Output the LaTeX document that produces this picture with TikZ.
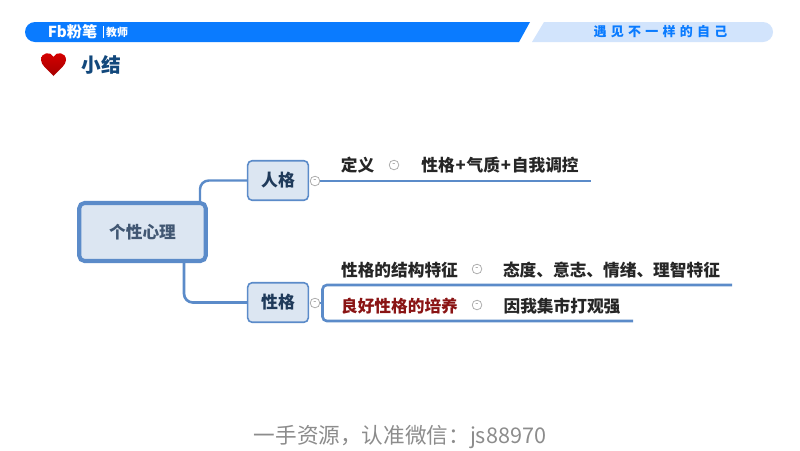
\documentclass[tikz,border=0pt]{standalone}
\usepackage{fontspec}
\usepackage{xcolor}
\usetikzlibrary{positioning}
\setmainfont{Noto Sans CJK SC}
\definecolor{barblue}{HTML}{0A7BFF}
\definecolor{barlight}{HTML}{D2E4FC}
\definecolor{mapblue}{HTML}{5B8BC9}
\definecolor{boxfill}{HTML}{DCE6F2}
\definecolor{titleblue}{HTML}{12487C}
\definecolor{boxtext}{HTML}{1F3A5A}
\definecolor{darkred}{HTML}{8A1414}
\tikzset{
  rootbox/.style={draw=mapblue,line width=2.3pt,fill=boxfill,rounded corners=3pt,minimum width=72pt,minimum height=33pt,inner sep=0pt,font=\fontsize{9.5}{11}\selectfont\bfseries,text=boxtext!85},
  topicbox/.style={draw=mapblue,line width=0.9pt,fill=boxfill,rounded corners=2.5pt,minimum width=34.5pt,minimum height=22.5pt,inner sep=0pt,font=\fontsize{9.6}{12}\selectfont\bfseries,text=boxtext},
  leaf/.style={inner sep=0pt,font=\fontsize{9.5}{11}\selectfont\bfseries,text=black!85},
  branch/.style={draw=mapblue,line width=1.5pt,rounded corners=2.5pt},
  foldmark/.style={circle,draw=gray!70,fill=white,line width=0.4pt,minimum size=5.5pt,inner sep=0pt,text=gray,font=\fontsize{5}{5}\selectfont}
}
\begin{document}
\begin{tikzpicture}[x=0.02cm,y=-0.02cm]
\useasboundingbox (0,0) rectangle (800,450);
\fill[white] (0,0) rectangle (800,450);
% header
\fill[barblue] (530,22) -- (519,42) -- (35,42) arc (90:270:10) -- cycle;
\fill[barlight] (544,22) -- (763,22) arc (270:450:10) -- (532,42) -- cycle;
\node[text=white,inner sep=0pt,font=\fontsize{8.6}{10}\selectfont\bfseries] (brand) at (72.5,32) {Fb粉笔};
\node[text=white,inner sep=0pt,font=\fontsize{6.2}{8}\selectfont\bfseries] (teacher) at (117,32.5) {教师};
\draw[white,line width=0.3pt] (103,26) -- (103,38);
\node[text=barblue,inner sep=0pt,font=\fontsize{7.4}{9}\selectfont\bfseries] (motto) at (660.5,32) {遇\hspace{2.4pt}见\hspace{2.4pt}不\hspace{2.4pt}一\hspace{2.4pt}样\hspace{2.4pt}的\hspace{2.4pt}自\hspace{2.4pt}己};
% heart and title
\shade[top color=red!85!black,bottom color=red!65!black] (53.5,76) .. controls (47,69) and (41,65) .. (41,60) .. controls (41,52) and (51,51) .. (53.5,57) .. controls (56,51) and (66,52) .. (66,60) .. controls (66,65) and (60,69) .. (53.5,76) -- cycle;
\node[text=titleblue,inner sep=0pt,font=\fontsize{11.2}{13}\selectfont\bfseries] (title) at (101,65) {小结};
% map
\node[rootbox] (root) at (142.5,232) {个性心理};
\node[topicbox] (pers) at (278,180.5) {\raisebox{-0.8pt}{人格}};
\node[topicbox] (char) at (278,302.5) {\raisebox{-0.8pt}{性格}};
\coordinate (rootup) at (200,203);
\coordinate (rootdn) at (184,261);
\draw[branch,line width=1.4pt,rounded corners=5pt] (rootup) |- (pers.west);
\draw[branch,rounded corners=5pt] (rootdn) |- (char.west);
\coordinate (persend) at (591,181);
\coordinate (charone) at (732,285);
\coordinate (chartwo) at (633,321);
\coordinate (brace) at (322.5,303);
\node[foldmark] (persfold) at (315,181) {-};
\node[foldmark] (charfold) at (315,303) {-};
\draw[branch] (persfold) -- (persend);
\draw[branch,line width=1pt] (charfold) -- (brace);
\draw[branch] (charone) -- (322.5,285) -- (brace) -- (322.5,321) -- (chartwo);
\node[leaf] (defn) at (357.5,165) {定义};
\node[foldmark] (defnfold) at (394,165) {-};
\node[leaf] (defntext) at (500,165) {性格\hspace{0.5pt}+\hspace{0.5pt}气质\hspace{0.5pt}+\hspace{0.5pt}自我调控};
\node[leaf] (struct) at (399.5,270) {性格的结构特征};
\node[foldmark] (structfold) at (477,269) {-};
\node[leaf] (structtext) at (611.5,270) {态度、意志、情绪、理智特征};
\node[leaf,text=darkred] (train) at (399.5,306) {良好性格的培养};
\node[foldmark] (trainfold) at (477,305) {-};
\node[leaf] (traintext) at (562,306) {因我集市打观强};
% bottom line
\node[text=black!45,inner sep=0pt,font=\fontsize{12.3}{15}\selectfont] (contact) at (400,437) {一手资源，认准微信：js88970};
\end{tikzpicture}
\end{document}
